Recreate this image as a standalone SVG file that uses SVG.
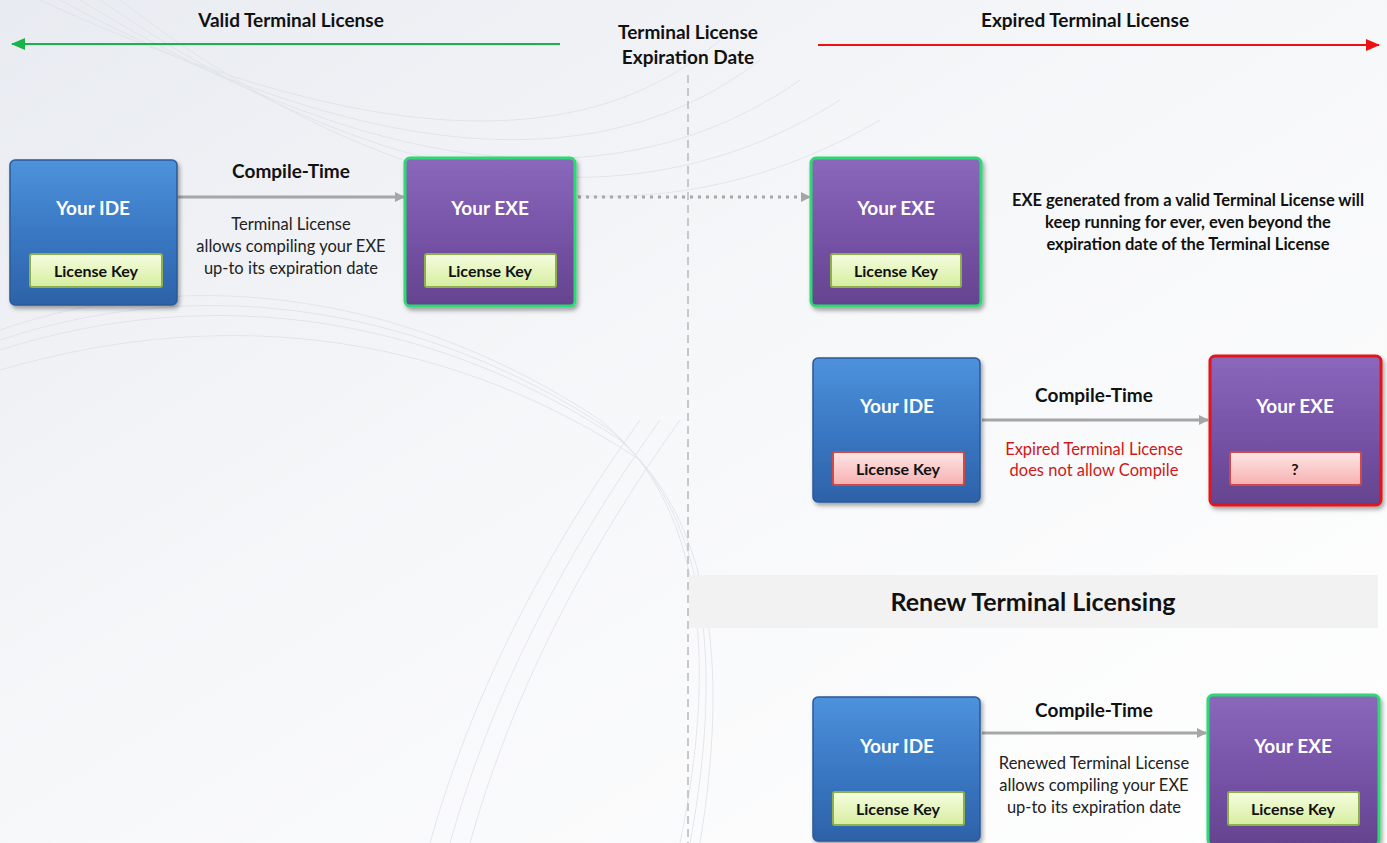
<svg xmlns="http://www.w3.org/2000/svg" width="1387" height="843" viewBox="0 0 1387 843">
<defs>
<linearGradient id="bg" x1="0" y1="0" x2="1" y2="1">
<stop offset="0" stop-color="#e8ebf1"/>
<stop offset="0.45" stop-color="#f6f7f9"/>
<stop offset="1" stop-color="#ffffff"/>
</linearGradient>
<linearGradient id="blue" x1="0" y1="0" x2="0" y2="1">
<stop offset="0" stop-color="#4e92dc"/>
<stop offset="0.5" stop-color="#3a78c4"/>
<stop offset="1" stop-color="#2d62a8"/>
</linearGradient>
<linearGradient id="purple" x1="0" y1="0" x2="0" y2="1">
<stop offset="0" stop-color="#8a68bc"/>
<stop offset="0.5" stop-color="#7754a8"/>
<stop offset="1" stop-color="#65438f"/>
</linearGradient>
<linearGradient id="green" x1="0" y1="0" x2="0" y2="1">
<stop offset="0" stop-color="#f6fde0"/>
<stop offset="1" stop-color="#d6eea0"/>
</linearGradient>
<linearGradient id="pink" x1="0" y1="0" x2="0" y2="1">
<stop offset="0" stop-color="#ffe6e6"/>
<stop offset="1" stop-color="#f6b0b0"/>
</linearGradient>
<filter id="sh" x="-10%" y="-10%" width="125%" height="125%">
<feDropShadow dx="2" dy="3" stdDeviation="2" flood-color="#000" flood-opacity="0.35"/>
</filter>
<marker id="ag" markerWidth="10" markerHeight="10" refX="9" refY="5" orient="auto" markerUnits="userSpaceOnUse">
<path d="M0,0 L10,5 L0,10 Z" fill="#a6a6a6"/>
</marker>
<marker id="agreen" markerWidth="14" markerHeight="12" refX="13" refY="6" orient="auto" markerUnits="userSpaceOnUse">
<path d="M0,0 L14,6 L0,12 Z" fill="#19b34a"/>
</marker>
<marker id="ared" markerWidth="14" markerHeight="12" refX="13" refY="6" orient="auto" markerUnits="userSpaceOnUse">
<path d="M0,0 L14,6 L0,12 Z" fill="#ee1111"/>
</marker>
</defs>
<style>
text{font-family:"Lato","Open Sans","Liberation Sans",sans-serif;}
.t{fill:#fff;font-weight:bold;font-size:19px;text-anchor:middle;}
.k{fill:#111;font-weight:bold;font-size:16px;text-anchor:middle;}
.h{fill:#111;font-weight:bold;font-size:19px;text-anchor:middle;}
.n{fill:#222;font-size:16.5px;text-anchor:middle;}
.b{fill:#111;font-weight:bold;font-size:16.5px;text-anchor:middle;}
.r{fill:#d01818;font-size:16.5px;text-anchor:middle;}
.ide{fill:url(#blue);stroke:#2a5a98;stroke-width:1.5;}
.exe{fill:url(#purple);stroke:#5a3c82;stroke-width:1.5;}
.okb{stroke:#2ed873;stroke-width:3;}
.bad{stroke:#e0141a;stroke-width:3;}
.kg{fill:url(#green);stroke:#8db04c;stroke-width:2;}
.kp{fill:url(#pink);stroke:#d04848;stroke-width:2;}
.con{stroke:#a6a6a6;stroke-width:3;fill:none;}
</style>
<rect width="1387" height="843" fill="url(#bg)"/>
<g fill="none" stroke="#dde1e8" stroke-width="1" opacity="0.8">
<path d="M40,0 C300,120 560,180 720,40"/>
<path d="M60,0 C320,140 580,200 760,60"/>
<path d="M80,0 C340,160 600,220 800,80"/>
<path d="M100,0 C360,180 620,240 840,100"/>
<path d="M120,0 C380,200 640,260 880,120"/>
<path d="M0,330 C200,260 420,300 600,420 C700,500 720,650 680,843"/>
<path d="M0,340 C210,270 430,310 610,430 C705,510 725,655 690,843"/>
<path d="M0,350 C220,280 440,320 620,440 C710,520 730,660 700,843"/>
<path d="M0,370 C240,300 460,340 640,460"/>
<path d="M430,843 C470,700 540,560 640,420"/>
<path d="M450,843 C490,700 560,560 660,420"/>
<path d="M470,843 C510,700 580,560 680,420"/>
</g>
<g id="connectors">
<line x1="560" y1="44" x2="12" y2="44" stroke="#19b34a" stroke-width="2" marker-end="url(#agreen)"/>
<line x1="818" y1="45" x2="1379" y2="45" stroke="#ee1111" stroke-width="2" marker-end="url(#ared)"/>
<line x1="688" y1="75" x2="688" y2="843" stroke="#c8c8c8" stroke-width="2" stroke-dasharray="8,5"/>
<line class="con" x1="178" y1="197" x2="404" y2="197" marker-end="url(#ag)"/>
<line class="con" x1="578" y1="197" x2="810" y2="197" stroke-dasharray="3,5" marker-end="url(#ag)"/>
<line class="con" x1="982" y1="420" x2="1208" y2="420" marker-end="url(#ag)"/>
<line class="con" x1="982" y1="733" x2="1206" y2="733" marker-end="url(#ag)"/>
</g>
<g id="header">
<text class="h" x="291" y="27">Valid Terminal License</text>
<text class="h" x="1085" y="27">Expired Terminal License</text>
<text class="h" x="688" y="39">Terminal License</text>
<text class="h" x="688" y="64">Expiration Date</text>
</g>
<g id="ide1">
<rect class="ide" x="10" y="160" width="167" height="145" rx="5" filter="url(#sh)"/>
<text class="t" x="93" y="215">Your IDE</text>
<rect class="kg" x="30" y="254" width="132" height="33" rx="2"/>
<text class="k" x="96" y="277">License Key</text>
</g>
<g id="label1">
<text class="h" x="291" y="178">Compile-Time</text>
<text class="n" x="291" y="230">Terminal License</text>
<text class="n" x="291" y="252">allows compiling your EXE</text>
<text class="n" x="291" y="274">up-to its expiration date</text>
</g>
<g id="exe1">
<rect class="exe okb" x="405" y="158" width="170" height="148" rx="5" filter="url(#sh)"/>
<text class="t" x="490" y="215">Your EXE</text>
<rect class="kg" x="425" y="254" width="131" height="33" rx="2"/>
<text class="k" x="490" y="277">License Key</text>
</g>
<g id="exe2">
<rect class="exe okb" x="811" y="158" width="170" height="148" rx="5" filter="url(#sh)"/>
<text class="t" x="896" y="215">Your EXE</text>
<rect class="kg" x="831" y="254" width="130" height="33" rx="2"/>
<text class="k" x="896" y="277">License Key</text>
</g>
<g id="note">
<text class="b" x="1188" y="206">EXE generated from a valid Terminal License will</text>
<text class="b" x="1188" y="228">keep running for ever, even beyond the</text>
<text class="b" x="1188" y="250">expiration date of the Terminal License</text>
</g>
<g id="ide2">
<rect class="ide" x="813" y="358" width="167" height="144" rx="5" filter="url(#sh)"/>
<text class="t" x="897" y="413">Your IDE</text>
<rect class="kp" x="833" y="452" width="131" height="33" rx="2"/>
<text class="k" x="898" y="475">License Key</text>
</g>
<g id="label2">
<text class="h" x="1094" y="402">Compile-Time</text>
<text class="r" x="1094" y="455">Expired Terminal License</text>
<text class="r" x="1094" y="476">does not allow Compile</text>
</g>
<g id="exe3">
<rect class="exe bad" x="1210" y="356" width="171" height="149" rx="5" filter="url(#sh)"/>
<text class="t" x="1295" y="413">Your EXE</text>
<rect class="kp" x="1230" y="452" width="131" height="33" rx="2"/>
<text class="k" x="1295" y="475">?</text>
</g>
<g id="renew">
<rect x="689" y="575" width="689" height="53" fill="#f2f2f2"/>
<text x="1033" y="611" font-size="25" font-weight="bold" fill="#111" text-anchor="middle">Renew Terminal Licensing</text>
</g>
<g id="ide3">
<rect class="ide" x="813" y="697" width="167" height="144" rx="5" filter="url(#sh)"/>
<text class="t" x="897" y="753">Your IDE</text>
<rect class="kg" x="833" y="792" width="131" height="33" rx="2"/>
<text class="k" x="898" y="815">License Key</text>
</g>
<g id="label3">
<text class="h" x="1094" y="717">Compile-Time</text>
<text class="n" x="1094" y="769">Renewed Terminal License</text>
<text class="n" x="1094" y="791">allows compiling your EXE</text>
<text class="n" x="1094" y="813">up-to its expiration date</text>
</g>
<g id="exe4">
<rect class="exe okb" x="1208" y="695" width="171" height="150" rx="5" filter="url(#sh)"/>
<text class="t" x="1293" y="753">Your EXE</text>
<rect class="kg" x="1228" y="792" width="131" height="33" rx="2"/>
<text class="k" x="1293" y="815">License Key</text>
</g>
</svg>
